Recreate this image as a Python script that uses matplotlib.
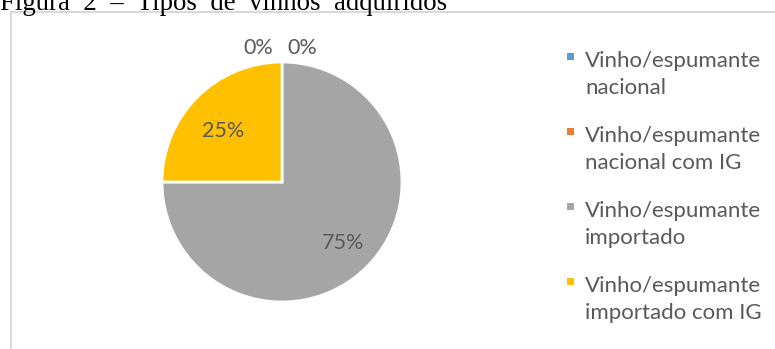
import matplotlib
matplotlib.use("Agg")
import matplotlib.pyplot as plt
from matplotlib.patches import Rectangle

categories = ["Vinho/espumante\nnacional", "Vinho/espumante\nnacional com IG",
              "Vinho/espumante\nimportado", "Vinho/espumante\nimportado com IG"]
values = [0, 0, 75, 25]
colors = ["#5B9BD5", "#ED7D31", "#A5A5A5", "#FFC000"]
title = "Figura  2  –  Tipos  de  vinhos  adquiridos"

W, H = 775, 349
fig = plt.figure(figsize=(W / 100, H / 100), dpi=100)
plt.rcParams['font.family'] = ['Lato', 'DejaVu Sans']

# frame of chart area
fig.patches.append(Rectangle((11 / W, -0.1), 1.2, 1 - 12 / H + 0.1, transform=fig.transFigure,
                             fill=False, edgecolor="#D9D9D9", linewidth=1.5))
fig.text(0 / W, 1 - 10 / H, title, family="Liberation Serif", fontsize=19.3,
         va="baseline", ha="left", color="black")

ax = fig.add_axes([162 / W, 47 / H, 240 / W, 240 / H])
wedges, texts, autotexts = ax.pie(values, colors=colors, startangle=90, counterclock=False,
                                  autopct=lambda p: f"{p:.0f}%", pctdistance=0.72,
                                  wedgeprops=dict(edgecolor="white", linewidth=2),
                                  textprops=dict(color="#595959", fontsize=15.5))
ax.set_xlim(-1, 1)
ax.set_ylim(-1, 1)
ax.set_aspect("equal")
zero_idx = [i for i, v in enumerate(values) if v == 0]
for k, i in enumerate(zero_idx):
    autotexts[i].set_position(((-0.2 if k == 0 else 0.17), 1.12))
# 25% label sits slightly lower in the reference
x, y = autotexts[3].get_position()
autotexts[3].set_position((x + 0.02, y - 0.08))

# legend drawn manually: marker aligned with the first text line of each entry
for i, (lab, c) in enumerate(zip(categories, colors)):
    base = 67 + 75 * i
    fig.patches.append(Rectangle((567 / W, 1 - (base - 7) / H), 7 / W, 7 / H,
                                 transform=fig.transFigure, facecolor=c, edgecolor="none"))
    for j, line in enumerate(lab.split("\n")):
        fig.text(585 / W, 1 - (base + 27 * j) / H, line, fontsize=16, color="#595959",
                 va="baseline", ha="left")

fig.savefig("out.png", dpi=100)
